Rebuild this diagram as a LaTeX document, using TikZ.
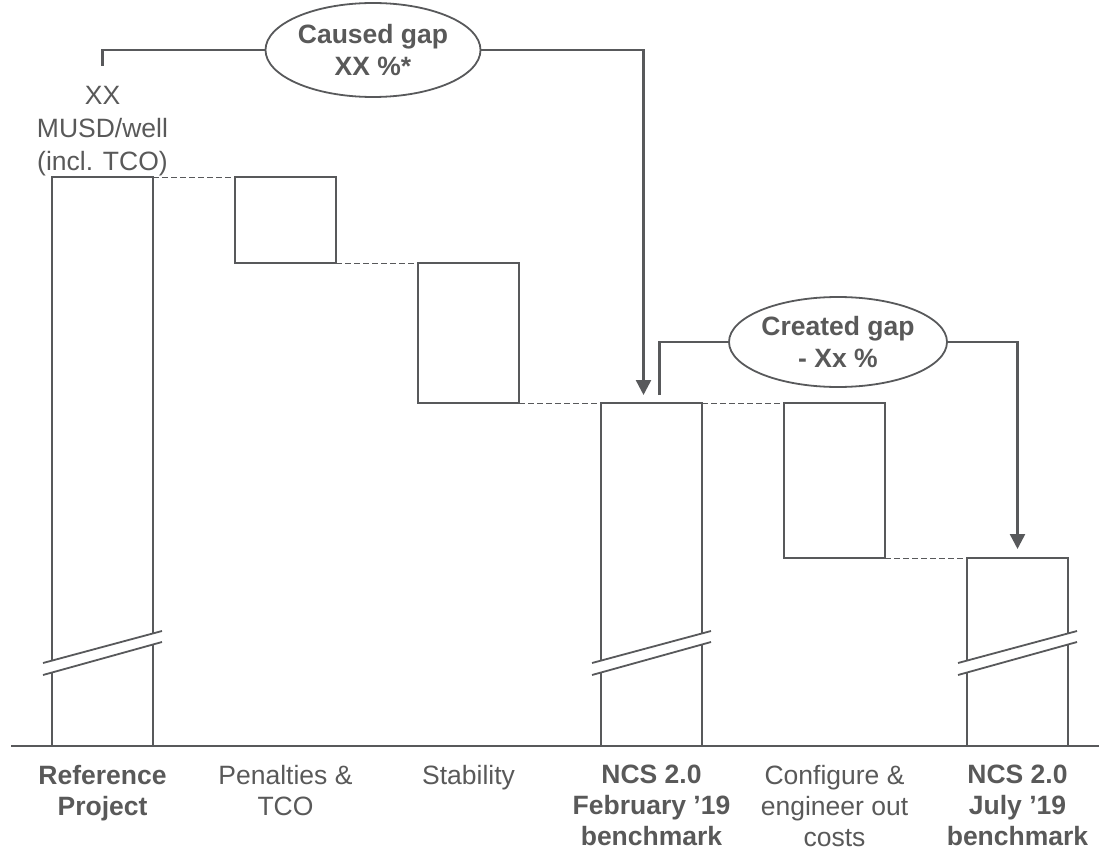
\documentclass[tikz,border=0pt]{standalone}
\usepackage{fontspec}
\setmainfont{Liberation Sans}
\usetikzlibrary{positioning,arrows.meta,shapes.geometric}
\definecolor{linegray}{RGB}{88,89,91}
\definecolor{textgray}{RGB}{89,89,89}

\begin{document}
\begin{tikzpicture}[
        x=1pt, y=-1pt,
        node distance=19pt and 82pt,
        bar_style/.style={draw=linegray, line width=1.8pt, fill=white, rectangle, minimum width=101pt, inner sep=0pt, outer sep=0pt},
        label_style/.style={text=textgray, align=center, inner sep=0pt, font=\fontsize{26.5}{31}\selectfont},
        bold_label_style/.style={label_style, font=\fontsize{26.5}{31}\selectfont\bfseries},
        gap_style/.style={draw=linegray, line width=1.8pt, ellipse, inner sep=0pt, align=center, text=textgray, font=\fontsize{26.5}{32}\selectfont\bfseries},
        dash_style/.style={draw=linegray, line width=0.9pt, dash pattern=on 6pt off 3pt},
        break_style/.style={draw=linegray, line width=1.8pt},
        edge_style/.style={draw=linegray, line width=2.5pt},
        arrow_style/.style={edge_style, -{Triangle[width=15pt,length=15pt]}}
    ]
    \useasboundingbox (0,0) rectangle (1099,850);

    % Bars
    \node[bar_style, minimum height=569pt, anchor=north west] (Ref) at (52,177) {};
    \node[bar_style, minimum height=86pt, right=of Ref.north east, anchor=north west] (Pen) {};
    \node[bar_style, minimum height=140pt, right=of Pen.south east, anchor=north west] (Stab) {};
    \node[bar_style, minimum height=343pt, right=of Stab.south east, anchor=north west] (Feb) {};
    \node[bar_style, minimum height=155pt, right=of Feb.north east, anchor=north west] (Conf) {};
    \node[bar_style, minimum height=188pt, right=of Conf.south east, anchor=north west] (Jul) {};

    % Dashed steps between bars
    \draw[dash_style] (Ref.north east) -- (Pen.north west);
    \draw[dash_style] (Pen.south east) -- (Stab.north west);
    \draw[dash_style] (Stab.south east) -- (Feb.north west);
    \draw[dash_style] (Feb.north east) -- (Conf.north west);
    \draw[dash_style] (Conf.south east) -- (Jul.north west);

    % Axis breaks
    \foreach \b in {Ref,Feb,Jul}{
        \fill[white] ([xshift=-9pt,yshift=83pt]\b.south west) -- ([xshift=9pt,yshift=115pt]\b.south east) -- ([xshift=9pt,yshift=104pt]\b.south east) -- ([xshift=-9pt,yshift=71pt]\b.south west) -- cycle;
        \draw[break_style] ([xshift=-9pt,yshift=83pt]\b.south west) -- ([xshift=9pt,yshift=115pt]\b.south east);
        \draw[break_style] ([xshift=-9pt,yshift=71pt]\b.south west) -- ([xshift=9pt,yshift=104pt]\b.south east);
    }

    % Axis
    \coordinate (AxL) at (11,746);
    \coordinate (AxR) at (1099,746);
    \draw[break_style] (AxL) -- (AxR);

    % Labels
    \node[bold_label_style, below=of Ref] (RefLbl) {Reference\\Project};
    \node[label_style, below=of Pen |- Ref.south] (PenLbl) {Penalties \&\\TCO};
    \node[label_style, below=of Stab |- Ref.south] (StabLbl) {Stability};
    \node[bold_label_style, below=of Feb] (FebLbl) {NCS 2.0\\February ’19\\benchmark};
    \node[label_style, below=of Conf |- Ref.south] (ConfLbl) {Configure \&\\engineer out\\costs};
    \node[bold_label_style, below=of Jul] (JulLbl) {NCS 2.0\\July ’19\\benchmark};
    \node[label_style, font=\fontsize{26.5}{33}\selectfont, above=1pt of Ref] (RefTop) {XX\\MUSD/well\\(incl. TCO)};

    % Gaps
    \node[gap_style, minimum width=215pt, minimum height=94pt] (Caused) at (373,50) {Caused gap\\XX \%*};
    \node[gap_style, minimum width=218pt, minimum height=90pt] (Created) at (838,342) {Created gap\\- Xx \%};

    \coordinate (RefUp) at ([yshift=20pt]RefTop.north);
    \coordinate (FebIn) at ([xshift=-8pt,yshift=8pt]Feb.north);
    \coordinate (FebOut) at ([xshift=8pt,yshift=8pt]Feb.north);
    \coordinate (JulIn) at ([yshift=9pt]Jul.north);
    \draw[edge_style] (RefUp) |- (Caused.west);
    \draw[arrow_style] (Caused.east) -| (FebIn);
    \draw[edge_style] (FebOut) |- (Created.west);
    \draw[arrow_style] (Created.east) -| (JulIn);

\end{tikzpicture}
\end{document}
